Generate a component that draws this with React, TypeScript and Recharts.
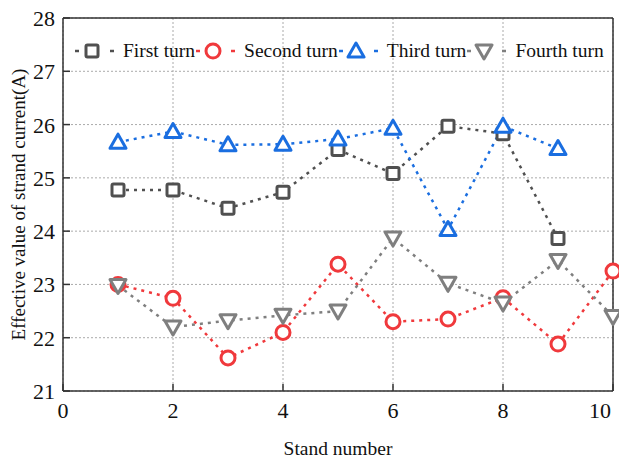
import React from 'react';
import {
  LineChart,
  Line,
  XAxis,
  YAxis,
  CartesianGrid,
  Legend,
} from 'recharts';

// stand numbers on the x axis
const stands = [1, 2, 3, 4, 5, 6, 7, 8, 9, 10];

// effective value of strand current (A) per turn
const firstTurn = [24.77, 24.77, 24.43, 24.73, 25.53, 25.08, 25.97, 25.83, 23.86];
const secondTurn = [23.0, 22.74, 21.62, 22.1, 23.38, 22.3, 22.35, 22.75, 21.88, 23.25];
const thirdTurn = [25.67, 25.87, 25.62, 25.63, 25.73, 25.93, 24.03, 25.97, 25.55];
const fourthTurn = [22.98, 22.2, 22.32, 22.42, 22.5, 23.87, 23.02, 22.65, 23.45, 22.4];

const xTicks = [0, 2, 4, 6, 8, 10];
const yTicks = [21, 22, 23, 24, 25, 26, 27, 28];

const data = stands.map((s, i) => ({
  stand: s,
  first: firstTurn[i],
  second: secondTurn[i],
  third: thirdTurn[i],
  fourth: fourthTurn[i],
}));

const FONT = '"Liberation Serif", "Times New Roman", serif';
const AXIS = '#333';
const INK = '#111';

const series = [
  { key: 'first', name: 'First turn', color: '#505050', shape: 'square' },
  { key: 'second', name: 'Second turn', color: '#f0393c', shape: 'circle' },
  { key: 'third', name: 'Third turn', color: '#1a6ee0', shape: 'triangle' },
  { key: 'fourth', name: 'Fourth turn', color: '#7f7f7f', shape: 'down' },
];

const Marker = ({ shape, cx, cy, color }: any) => {
  if (cx == null || cy == null) return <g />;
  const sw = 3;
  if (shape === 'square')
    return <rect x={cx - 6} y={cy - 6} width={12} height={12} rx={1.5} fill="#fff" stroke={color} strokeWidth={sw} />;
  if (shape === 'circle')
    return <circle cx={cx} cy={cy} r={7} fill="#fff" stroke={color} strokeWidth={sw} />;
  if (shape === 'triangle')
    return (
      <polygon
        points={`${cx},${cy - 8} ${cx + 8},${cy + 6} ${cx - 8},${cy + 6}`}
        fill="#fff"
        stroke={color}
        strokeWidth={sw}
        strokeLinejoin="round"
      />
    );
  return (
    <polygon
      points={`${cx},${cy + 8} ${cx + 8},${cy - 6} ${cx - 8},${cy - 6}`}
      fill="#fff"
      stroke={color}
      strokeWidth={sw}
      strokeLinejoin="round"
    />
  );
};

const LegendContent = () => (
  <div style={{ display: 'flex', alignItems: 'center', fontFamily: FONT, fontSize: 19.5, color: INK, whiteSpace: 'nowrap' }}>
    {series.map((s) => (
      <div key={s.key} style={{ display: 'flex', alignItems: 'center' }}>
        <svg width={49} height={20} style={{ display: 'block' }}>
          <line x1={1} y1={10} x2={5} y2={10} stroke={s.color} strokeWidth={2.5} />
          <line x1={36} y1={10} x2={40} y2={10} stroke={s.color} strokeWidth={2.5} />
          <Marker shape={s.shape} cx={18} cy={10} color={s.color} />
        </svg>
        <span>{s.name}</span>
      </div>
    ))}
  </div>
);

// the last label is pulled inside the frame, as in the original
const XTick = ({ x, y, payload }: any) => {
  const last = payload.value === xTicks[xTicks.length - 1];
  return (
    <text x={last ? x : x} y={y + 20} textAnchor={last ? 'end' : 'middle'} fill={INK} fontSize={22} fontFamily={FONT}>
      {payload.value}
    </text>
  );
};

const YTick = ({ x, y, payload }: any) => (
  <text x={x} y={y + 8} textAnchor="end" fill={INK} fontSize={22} fontFamily={FONT}>
    {payload.value}
  </text>
);

const YTitle = ({ viewBox }: any) => {
  const cx = viewBox.x + 18;
  const cy = viewBox.y + viewBox.height / 2;
  return (
    <text
      x={cx}
      y={cy}
      transform={`rotate(-90 ${cx} ${cy})`}
      textAnchor="middle"
      dominantBaseline="central"
      fill={INK}
      fontSize={19}
      fontFamily={FONT}
    >
      Effective value of strand current(A)
    </text>
  );
};

const XTitle = ({ viewBox }: any) => (
  <text
    x={viewBox.x + viewBox.width / 2}
    y={viewBox.y + 64}
    textAnchor="middle"
    fill={INK}
    fontSize={19.5}
    fontFamily={FONT}
  >
    Stand number
  </text>
);

export default function App() {
  return (
    <div style={{ position: 'absolute', left: 0, top: 0, background: '#fff' }}>
      <LineChart width={619} height={459} data={data} margin={{ top: 17, right: 5, left: 0, bottom: 0 }}>
        <CartesianGrid stroke="#aaa" strokeDasharray="2 2" />
        <XAxis
          dataKey="stand"
          type="number"
          domain={[0, 10]}
          ticks={xTicks}
          height={68}
          stroke={AXIS}
          strokeWidth={1.5}
          tickSize={-7}
          tickMargin={14}
          tick={<XTick />}
          label={<XTitle />}
        />
        <XAxis
          xAxisId="top"
          dataKey="stand"
          type="number"
          orientation="top"
          domain={[0, 10]}
          ticks={xTicks}
          height={1}
          stroke={AXIS}
          strokeWidth={1.5}
          tickSize={-7}
          tick={false}
        />
        <YAxis
          domain={[21, 28]}
          ticks={yTicks}
          width={63}
          stroke={AXIS}
          strokeWidth={1.5}
          tickSize={-7}
          tickMargin={15}
          tick={<YTick />}
          label={<YTitle />}
        />
        <YAxis
          yAxisId="right"
          orientation="right"
          domain={[21, 28]}
          ticks={yTicks}
          width={1}
          stroke={AXIS}
          strokeWidth={1.5}
          tickSize={-7}
          tick={false}
        />
        <Legend
          verticalAlign="middle"
          align="center"
          wrapperStyle={{ top: 40, left: 74, width: 'auto' }}
          content={<LegendContent />}
        />
        {series.map((s) => (
          <Line
            key={s.key}
            dataKey={s.key}
            name={s.name}
            stroke={s.color}
            strokeWidth={2.5}
            strokeDasharray="3 5"
            type="linear"
            connectNulls={false}
            isAnimationActive={false}
            dot={(p: any) => <Marker key={`${s.key}-${p.index}`} shape={s.shape} cx={p.cx} cy={p.cy} color={s.color} />}
            activeDot={false}
          />
        ))}
      </LineChart>
    </div>
  );
}
